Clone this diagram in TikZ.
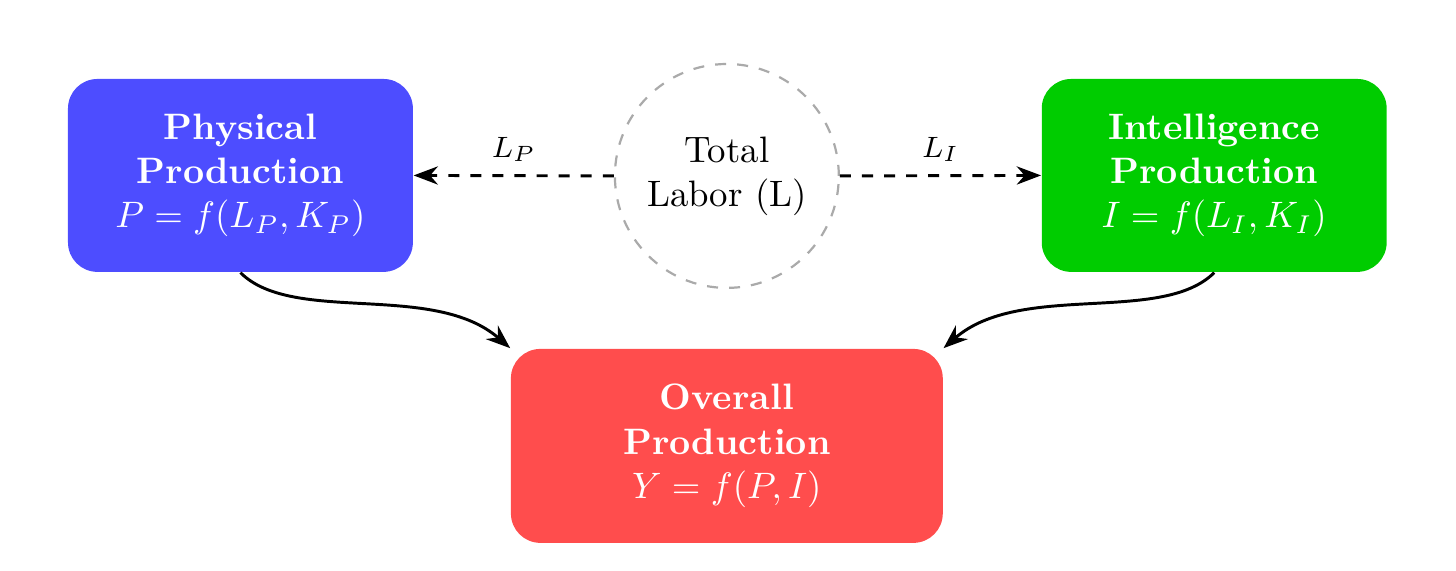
\documentclass[tikz,border=0pt]{standalone}
\usepackage{xcolor}
\usepackage{tikz}
\usepackage{amsmath}
\usetikzlibrary{arrows.meta,shapes,positioning,calc}
\definecolor{physBlue}   {RGB}{77,   77, 255}
\definecolor{intelGreen} {RGB}{0,   204,   0}
\definecolor{overallRed} {RGB}{255,  77,  77}
\definecolor{laborGray}  {RGB}{170, 170, 170}

\tikzset{
  prodbox/.style={rounded corners=8pt, text=white, align=center, inner sep=0pt,
                  minimum width=3.295cm, minimum height=1.843cm},
  laborflow/.style={-{Stealth}, dashed, thick},
  joinflow/.style={-{Stealth}, thick},
}

\begin{document}
\begin{tikzpicture}
        \useasboundingbox (0,0) rectangle (13.91,-5.453);

        % Trabalho total
        \node[circle, draw=laborGray, dashed, semithick, align=center,
              minimum size=2.139cm] (labor) at (6.944,-1.681){Total\\Labor (L)};

        % Setores
        \node[prodbox, fill=physBlue] (phys) at (2.297,-1.676)
             {\textbf{Physical}\\\textbf{Production}\\$P = f(L_P, K_P)$};
        \node[prodbox, fill=intelGreen] (intel) at (11.600,-1.676)
             {\textbf{Intelligence}\\\textbf{Production}\\$I = f(L_I, K_I)$};
        \node[prodbox, fill=overallRed, minimum width=4.126cm,
              minimum height=1.853cm] (overall) at (6.944,-4.260)
             {\textbf{Overall}\\\textbf{Production}\\$Y = f(P, I)$};

        % Alocacao do trabalho
        \draw[laborflow] (labor.west) -- node[above=0pt, font=\footnotesize]{$L_P$} (phys.east);
        \draw[laborflow] (labor.east) -- node[above=0pt, font=\footnotesize]{$L_I$} (intel.west);

        % Producao agregada
        \draw[joinflow] (phys.south) .. controls +(0.5,-0.5) and +(-0.735,0.640) .. (overall.north west);
        \draw[joinflow] (intel.south) .. controls +(-0.5,-0.5) and +(0.735,0.640) .. (overall.north east);
      \end{tikzpicture}
\end{document}
